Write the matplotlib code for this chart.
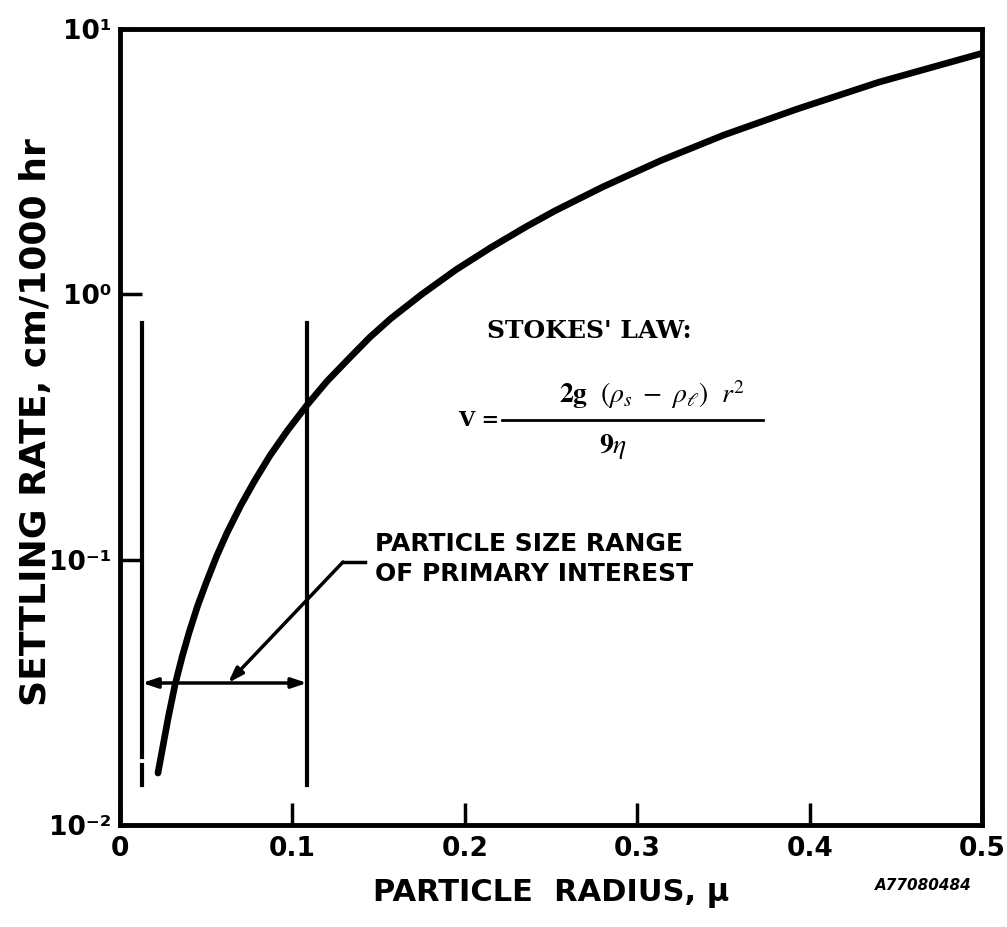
import numpy as np
import matplotlib
matplotlib.use("Agg")
import matplotlib.pyplot as plt

# settling rate vs particle radius (Stokes' law curve)
radius = [0.022, 0.025, 0.028, 0.032, 0.036, 0.040, 0.045, 0.050, 0.056,
          0.062, 0.070, 0.078, 0.087, 0.097, 0.1085, 0.120, 0.133, 0.145,
          0.157, 0.175, 0.195, 0.215, 0.235, 0.252, 0.280, 0.314, 0.350,
          0.393, 0.440, 0.500]
rate = [0.0157, 0.020, 0.0255, 0.034, 0.043, 0.053, 0.067, 0.082, 0.103,
        0.126, 0.160, 0.198, 0.247, 0.306, 0.383, 0.47, 0.575, 0.69,
        0.81, 1.00, 1.24, 1.50, 1.79, 2.06, 2.54, 3.20, 3.98,
        5.00, 6.30, 8.10]

# particle size range of primary interest
range_lo = 0.0128
range_hi = 0.1085
range_bar_top = 0.78
range_bar_bottom = 0.01416
range_arrow_y = 0.0343

x_ticks = [0, 0.1, 0.2, 0.3, 0.4, 0.5]
x_tick_labels = ["0", "0.1", "0.2", "0.3", "0.4", "0.5"]
y_ticks = [0.01, 0.1, 1, 10]
y_tick_labels = ["10\u207b\u00b2", "10\u207b\u00b9", "10\u2070", "10\u00b9"]

plt.rcParams['font.family'] = ['DejaVu Sans']
plt.rcParams['mathtext.fontset'] = 'stix'

fig = plt.figure(figsize=(10.07, 9.27), dpi=100)
ax = fig.add_axes([0.1192, 0.1100, 0.856, 0.8587])

ax.plot(radius, rate, color='black', lw=4.8, solid_capstyle='round',
        solid_joinstyle='round')
ax.set_yscale('log')
ax.set_xlim(0, 0.5)
ax.set_ylim(0.01, 10)

for s in ax.spines.values():
    s.set_linewidth(3.5)

ax.set_xticks(x_ticks)
ax.set_xticklabels(x_tick_labels, fontsize=19, fontweight='bold')
ax.set_yticks(y_ticks)
ax.set_yticklabels(y_tick_labels, fontsize=19, fontweight='bold')
ax.minorticks_off()
ax.tick_params(direction='in', length=16, width=2.5, pad=8)
ax.tick_params(axis='y', pad=6)

ax.set_xlabel("PARTICLE  RADIUS, \u03bc", fontsize=22, fontweight='bold', labelpad=12)
fig.text(0.036, 0.545, "SETTLING RATE, cm/1000 hr", fontsize=26, fontweight='bold',
         rotation=90, ha='center', va='center')

# vertical bars bounding the range of interest
ax.plot([range_lo, range_lo], [range_bar_top, 0.018], color='black', lw=3)
ax.plot([range_lo, range_lo], [0.0168, range_bar_bottom], color='black', lw=3)
ax.plot([range_hi, range_hi], [range_bar_top, range_bar_bottom], color='black', lw=3)

# double arrow between the bars
ax.annotate('', xy=(range_lo, range_arrow_y), xytext=(range_hi, range_arrow_y),
            arrowprops=dict(arrowstyle='<|-|>,head_length=0.9,head_width=0.3',
                            color='black', lw=2.5, shrinkA=0, shrinkB=0))

# leader from the label down to the arrow
ax.plot([0.1421, 0.1293], [0.098, 0.098], color='black', lw=2.5)
ax.annotate('', xy=(0.0626, range_arrow_y), xytext=(0.1293, 0.098),
            arrowprops=dict(arrowstyle='-|>,head_length=0.9,head_width=0.3',
                            color='black', lw=2.5, shrinkA=0, shrinkB=0))

ax.text(0.148, 0.127, "PARTICLE SIZE RANGE\nOF PRIMARY INTEREST",
        fontsize=18, fontweight='heavy', va='top', ha='left', linespacing=1.3)

# Stokes' law note
ax.text(0.213, 0.73, "STOKES' LAW:", fontsize=18, fontweight='bold',
        family='DejaVu Serif', va='center', ha='left')
ax.text(0.2200, 0.336, "V =", fontsize=15, fontweight='bold',
        family='DejaVu Serif', va='center', ha='right')
ax.text(0.3086, 0.418, r"$\mathbf{2g}\ \ (\rho_s\ -\ \rho_\ell)\ \ r^2$",
        fontsize=20, va='center', ha='center')
ax.plot([0.2216, 0.373], [0.336, 0.336], color='black', lw=2)
ax.text(0.286, 0.268, r"$\mathbf{9}\eta$", fontsize=20, va='center', ha='center')

fig.text(0.869, 0.045, "A77080484", fontsize=11, fontweight='bold',
         style='italic', ha='left', va='center')

fig.savefig("out.png", dpi=100, facecolor='white')
